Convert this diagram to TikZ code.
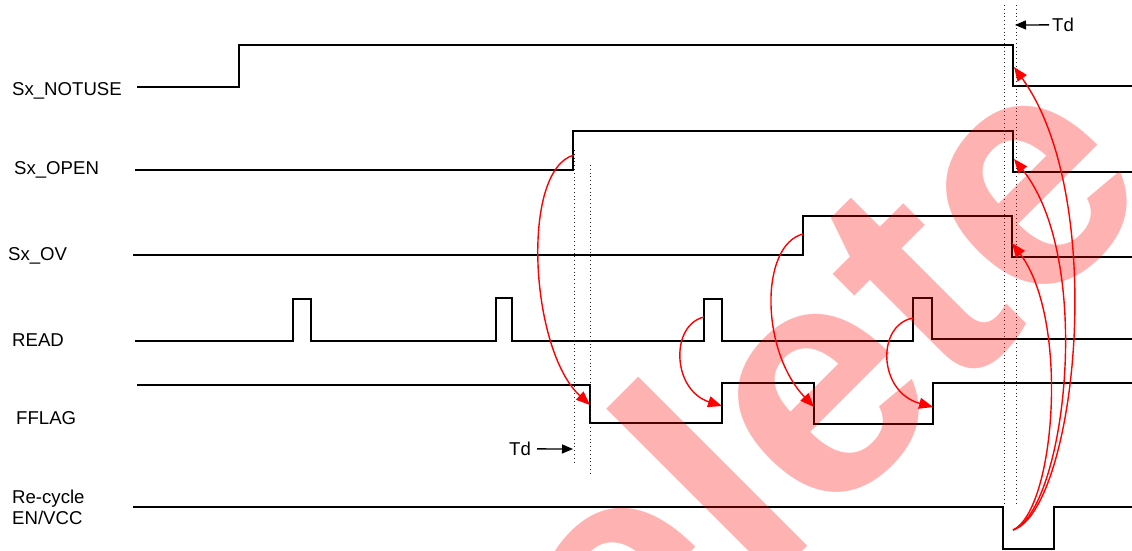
\documentclass[tikz,border=0pt]{standalone}
\usepackage{fontspec}
\setmainfont{Liberation Sans}
\usetikzlibrary{arrows.meta}
\begin{document}
\begin{tikzpicture}[x=1pt,y=-1pt,
  sig/.style={line width=1.5pt, black, line join=miter},
  dotline/.style={line width=1pt, dash pattern=on 1pt off 2.8pt, black!85},
  cause/.style={red, line width=1.4pt, -{Triangle[length=14pt,width=11pt]}},
  lbl/.style={anchor=base west, font=\fontsize{18.6}{21}\selectfont, inner sep=0pt},
  tdarrow/.style={line width=1.3pt, -{Triangle[length=11pt,width=9pt]}}]
\useasboundingbox (0,0) rectangle (1132,550);
\fill[white] (0,0) rectangle (1132,550);

% labels
\node[lbl] (lnotuse) at (12,95) {Sx\_NOTUSE};
\node[lbl] (lopen) at (14,174) {Sx\_OPEN};
\node[lbl] (lov) at (8,260) {Sx\_OV};
\node[lbl] (lread) at (12,346) {READ};
\node[lbl] (lfflag) at (16,424) {FFLAG};
\node[lbl] (lrec1) at (12,503) {Re-cycle};
\node[lbl] (lrec2) at (12,524) {EN/VCC};

% signals
\draw[sig] (137,87) -- (239,87) -- (239,45) -- (1013,45) -- (1013,86) -- (1132,86);
\draw[sig] (135,170) -- (573,170) -- (573,131) -- (1013,131) -- (1013,172) -- (1132,172);
\draw[sig] (133,255) -- (803,255) -- (803,216) -- (1012,216) -- (1012,257) -- (1132,257);
\draw[sig] (135,341) -- (293,341) -- (293,299) -- (311,299) -- (311,341) -- (496,341)
  -- (496,298) -- (512,298) -- (512,341) -- (704,341) -- (704,299) -- (722,299)
  -- (722,341) -- (913,341) -- (913,298) -- (932,298) -- (932,339) -- (1132,339);
\draw[sig] (137,385) -- (590,385) -- (590,423) -- (722,423) -- (722,383) -- (814,383)
  -- (814,424) -- (933,424) -- (933,383) -- (1132,383);
\draw[sig] (133,507) -- (1003,507) -- (1003,549) -- (1054,549) -- (1054,507) -- (1132,507);

% dotted guides
\draw[dotline] (574,150) -- (574,463);
\draw[dotline] (590,165) -- (590,473);
\draw[dotline] (1004,5) -- (1004,505);
\draw[dotline] (1016,5) -- (1016,505);

% Td markers
\node[lbl] (tdl) at (509,455.5) {Td};
\coordinate (tdlend) at (573,449);
\draw[tdarrow] ([xshift=6pt]tdl.east) -- (tdlend);
\node[lbl] (tdu) at (1052,31.5) {Td};
\coordinate (tduend) at (1015,25);
\draw[tdarrow] ([xshift=-3pt]tdu.west) -- (tduend);

% cause arrows
\coordinate (c1s) at (574,155); \coordinate (c1e) at (590,405);
\coordinate (c2s) at (704,317); \coordinate (c2e) at (722,406);
\coordinate (c3s) at (803,234); \coordinate (c3e) at (814,407);
\coordinate (c4s) at (913,318); \coordinate (c4e) at (933,407);
\coordinate (rs) at (1013,530);
\coordinate (rnotuse) at (1014,67);
\coordinate (ropen) at (1014,159);
\coordinate (rov) at (1012,243);
\draw[cause] (c1s) .. controls (520,170) and (530,350) .. (c1e);
\draw[cause] (c2s) .. controls (670,325) and (672,390) .. (c2e);
\draw[cause] (c3s) .. controls (760,245) and (760,350) .. (c3e);
\draw[cause] (c4s) .. controls (876,325) and (878,392) .. (c4e);
\draw[cause] (rs) .. controls (1055,510) and (1070,320) .. (rov);
\draw[cause] (rs) .. controls (1065,510) and (1095,260) .. (ropen);
\draw[cause] (rs) .. controls (1075,510) and (1110,200) .. (rnotuse);

% watermark
\begin{scope}
\clip (0,0) rectangle (1132,550);
\node[rotate=45, anchor=base, inner sep=0pt, text=red, text opacity=0.3,
  font=\fontsize{330}{330}\selectfont\bfseries] (wm) at (811,543) {Delete};
\end{scope}
\end{tikzpicture}
\end{document}
